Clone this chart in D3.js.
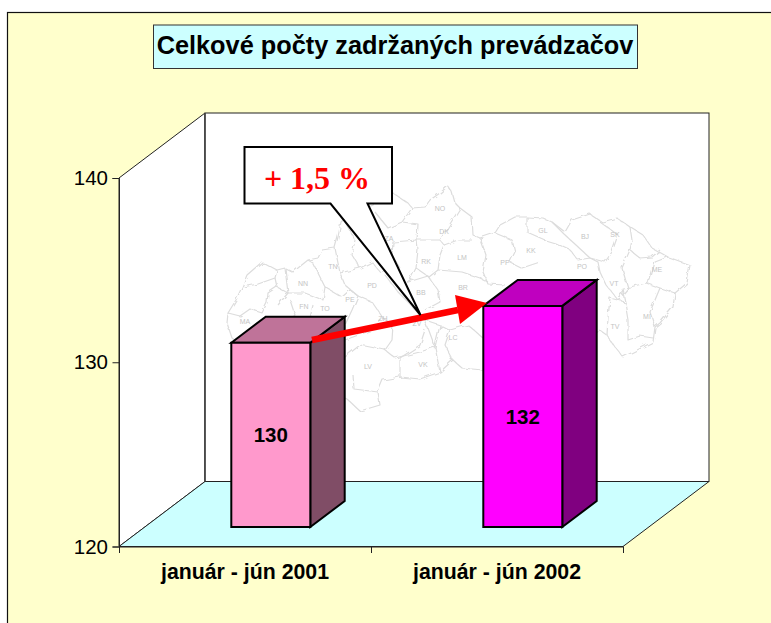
<!DOCTYPE html>
<html><head><meta charset="utf-8">
<script src="https://cdnjs.cloudflare.com/ajax/libs/d3/7.8.5/d3.min.js"></script>
<style>html,body{margin:0;padding:0;background:#fff;overflow:hidden}svg{display:block}</style>
</head><body><div id="c"></div>
<script>
const categories = ["január - jún 2001", "január - jún 2002"];
const values = [130, 132];
const valueLabels = ["130", "132"];
const yTicks = [120, 130, 140];
const chartTitle = "Celkové počty zadržaných prevádzačov";
const calloutText = "+ 1,5 %";
const frontColors = ["#ff99cc", "#ff00ff"];
const topColors = ["#bf7399", "#bf00bf"];
const sideColors = ["#804d66", "#800080"];

const mapOutline = [[227,323],[228,313],[236,300],[242,287],[247,275],[262,262],[277,270],[285,268],[293,272],[308,260],[318,258],[322,250],[335,248],[338,237],[341,222],[352,212],[370,205],[393,193],[408,203],[412,208],[425,207],[430,200],[440,193],[448,186],[452,192],[455,203],[460,208],[472,217],[473,235],[480,238],[495,233],[500,225],[515,217],[527,217],[543,218],[552,222],[565,232],[572,220],[590,214],[602,222],[617,218],[630,227],[643,235],[652,248],[668,257],[690,265],[687,283],[675,293],[673,307],[660,323],[655,327],[653,342],[637,350],[623,357],[615,347],[607,335],[600,330],[590,350],[560,365],[520,372],[483,370],[462,368],[453,360],[440,372],[420,379],[400,377],[383,380],[378,392],[380,405],[360,411],[347,399],[330,392],[300,380],[260,360],[232,338],[227,323]];
const mapInner = [
 [[243,287],[258,284],[275,278],[277,270]],
 [[275,278],[277,287],[268,293],[267,303],[262,313],[250,309],[240,316],[228,313]],
 [[277,287],[288,293],[278,305]],
 [[285,268],[288,293],[305,293],[323,300],[325,287],[313,263],[308,260]],
 [[290,300],[295,315],[285,325]],
 [[313,305],[310,318]],
 [[325,287],[342,297],[350,290],[358,296],[352,310],[345,325]],
 [[335,248],[340,273],[345,285],[358,296]],
 [[340,273],[360,268],[372,262],[380,272],[395,268]],
 [[345,222],[355,240],[352,255],[360,268]],
 [[358,296],[372,302],[383,318],[372,330],[345,340]],
 [[395,268],[385,275],[398,292],[412,306],[417,312]],
 [[375,212],[388,228],[402,222],[412,208]],
 [[402,222],[418,224],[417,240],[393,242],[392,255],[400,268]],
 [[417,240],[440,240],[460,208]],
 [[417,240],[418,250],[416,268],[410,280],[405,283]],
 [[440,240],[444,245],[440,255],[438,270],[429,277],[416,268]],
 [[444,245],[458,240],[472,240]],
 [[438,270],[462,272],[480,278],[488,282]],
 [[405,283],[428,276],[438,290],[440,302],[425,310]],
 [[480,238],[486,255],[483,272],[488,284],[505,285]],
 [[495,233],[512,240],[515,252],[510,262],[522,268],[540,262]],
 [[527,217],[527,232],[545,240],[555,243],[570,250],[578,260],[590,258]],
 [[552,222],[565,235],[576,245],[590,258],[598,262],[600,272],[606,285],[618,300],[628,288],[622,268],[630,250],[632,240],[630,227]],
 [[590,258],[605,262],[612,252],[618,235],[600,222]],
 [[630,250],[640,258],[652,257],[660,250]],
 [[668,257],[655,262],[650,280],[646,283],[660,288],[675,293]],
 [[646,283],[630,287],[622,288],[625,302],[628,320],[628,340],[640,336],[653,338]],
 [[660,288],[655,300],[650,312],[655,327]],
 [[625,302],[610,298],[608,318],[607,335]],
 [[383,318],[393,325],[392,340],[385,350],[395,358],[420,352],[435,347],[425,320],[417,312]],
 [[435,347],[440,372]],
 [[425,320],[440,325],[435,347]],
 [[425,330],[420,345],[400,358],[400,378]],
 [[385,350],[360,345],[345,357]],
 [[353,375],[354,389],[378,392]],
 [[450,330],[468,325],[483,338]],
 [[440,325],[450,330],[445,345],[453,360]]
];
const mapLabels = [["MA",245,322],["NN",303,284],["TN",333,267],["FN",304,307],["TO",325,309],["PD",372,286],["PE",350,300],["ZA",389,239],["NO",440,209],["DK",444,232],["RK",426,262],["LM",462,258],["BB",421,293],["BR",463,288],["ZH",383,319],["ZV",417,324],["LV",368,367],["VK",423,365],["LC",453,338],["PP",505,263],["KK",531,251],["GL",543,231],["BJ",585,237],["PO",582,267],["SK",615,235],["VT",614,284],["TV",615,327],["ME",657,270],["MI",647,317]];

const W = 771, H = 623;
const frame = {x:7.5, y:12.5};
const origin = {x:119, y:546.5}, plotRight = 623, yTop = 178;
const depth = {dx:86, dy:-65};
const barNear = 0.3, barFar = 0.7;

const svg = d3.select("#c").append("svg").attr("width",W).attr("height",H);
const SANS = "'Liberation Sans',Arial,sans-serif";

// gives the traced map borders their hand-drawn wobble
const filt = svg.append("defs").append("filter").attr("id","wobble").attr("x","-5%").attr("y","-5%").attr("width","110%").attr("height","110%");
filt.append("feTurbulence").attr("type","fractalNoise").attr("baseFrequency",0.13).attr("numOctaves",2).attr("seed",4).attr("result","n");
filt.append("feDisplacementMap").attr("in","SourceGraphic").attr("in2","n").attr("scale",5);

svg.append("rect").attr("x",frame.x).attr("y",frame.y).attr("width",W+20).attr("height",H+20)
  .attr("fill","#ffffcc").attr("stroke","#111").attr("stroke-width",1.2);

// title
svg.append("rect").attr("x",153.5).attr("y",25).attr("width",484).attr("height",43.5)
  .attr("fill","#ccffff").attr("stroke","#333").attr("stroke-width",1);
svg.append("text").attr("x",395).attr("y",54).attr("text-anchor","middle")
  .attr("font-family",SANS).attr("font-weight","bold").attr("font-size",25.3).attr("fill","#000").text(chartTitle);

const y = d3.scaleLinear().domain([yTicks[0],yTicks[yTicks.length-1]]).range([origin.y,yTop]);
const x = d3.scaleBand().domain(categories).range([origin.x,plotRight]).paddingInner(0.6865).paddingOuter(0.34325);
const poly = d3.line();

// walls and floor
const top0 = y(yTicks[2]);
svg.append("path").attr("d",poly([[origin.x,top0],[origin.x+depth.dx,top0+depth.dy],[origin.x+depth.dx,origin.y+depth.dy],[origin.x,origin.y]])+"Z")
  .attr("fill","#fff").attr("stroke","#222").attr("stroke-width",1);
svg.append("path").attr("d",poly([[origin.x,origin.y],[plotRight,origin.y],[plotRight+depth.dx,origin.y+depth.dy],[origin.x+depth.dx,origin.y+depth.dy]])+"Z")
  .attr("fill","#ccffff").attr("stroke","#222").attr("stroke-width",1);
svg.append("rect").attr("x",origin.x+depth.dx).attr("y",top0+depth.dy)
  .attr("width",plotRight-origin.x).attr("height",origin.y-top0)
  .attr("fill","#fff").attr("stroke","#222").attr("stroke-width",1);
svg.append("line").attr("x1",205).attr("x2",205).attr("y1",113).attr("y2",481.5).attr("stroke","#444").attr("stroke-width",1.4);

// background map
const map = svg.append("g").attr("fill","none").attr("stroke","#dcdcdc").attr("stroke-width",1.2).attr("stroke-linejoin","round").attr("filter","url(#wobble)");
map.append("path").attr("d",poly(mapOutline));
map.selectAll("path.in").data(mapInner).join("path").attr("class","in").attr("d",d=>poly(d));
svg.append("g").selectAll("text").data(mapLabels).join("text")
  .attr("x",d=>d[1]).attr("y",d=>d[2]).attr("dy","0.35em").attr("text-anchor","middle")
  .attr("font-family",SANS).attr("font-size",7).attr("fill","#c4c4c4").text(d=>d[0]);

// axes
const yAxis = d3.axisLeft(y).tickValues(yTicks).tickSize(6.5).tickPadding(4.5).tickFormat(d3.format("d"));
const yg = svg.append("g").attr("transform",`translate(${origin.x},0)`).call(yAxis);
yg.select(".domain").attr("stroke","#222");
yg.selectAll("line").attr("stroke","#222");
yg.selectAll("text").attr("font-family",SANS).attr("font-size",20.5).attr("fill","#000");

const xEdges = d3.scaleLinear().domain([0,categories.length]).range([origin.x,plotRight]);
const xg = svg.append("g").attr("transform",`translate(0,${origin.y})`)
  .call(d3.axisBottom(xEdges).tickValues(d3.range(categories.length+1)).tickSize(6.5).tickSizeOuter(0).tickFormat(""));
xg.select(".domain").attr("stroke","#222");
xg.selectAll("line").attr("stroke","#222");
const xl = svg.append("g").attr("transform",`translate(0,${origin.y})`).call(d3.axisBottom(x).tickSize(0).tickPadding(17.5));
xl.select(".domain").remove();
xl.selectAll("text").attr("font-family",SANS).attr("font-weight","bold").attr("font-size",21.3).attr("fill","#000");

// 3-D bars
const bars = svg.append("g").selectAll("g").data(categories.map((c,i)=>({c,v:values[i],l:valueLabels[i],i}))).join("g");
bars.each(function(d){
  const g = d3.select(this);
  const bx = x(d.c)+depth.dx*barNear, bw = x.bandwidth();
  const yb = origin.y+depth.dy*barNear, yt = y(d.v)+depth.dy*barNear;
  const ox = depth.dx*(barFar-barNear), oy = depth.dy*(barFar-barNear);
  const st = {stroke:"#000","stroke-width":2,"stroke-linejoin":"miter"};
  const add = (pts,fill)=>{const p=g.append("path").attr("d",poly(pts)+"Z").attr("fill",fill);Object.entries(st).forEach(([k,v])=>p.attr(k,v));};
  add([[bx+bw,yb],[bx+bw+ox,yb+oy],[bx+bw+ox,yt+oy],[bx+bw,yt]],sideColors[d.i]);
  add([[bx,yt],[bx+ox,yt+oy],[bx+bw+ox,yt+oy],[bx+bw,yt]],topColors[d.i]);
  add([[bx,yb],[bx+bw,yb],[bx+bw,yt],[bx,yt]],frontColors[d.i]);
  g.append("text").attr("x",bx+bw/2).attr("y",(yb+yt)/2).attr("dy","0.36em").attr("text-anchor","middle")
    .attr("font-family",SANS).attr("font-weight","bold").attr("font-size",20.5).attr("fill","#000").text(d.l);
});

// growth arrow
const arrowBody = [[312,340],[458,310]];
const arrowHead = [[455,295],[487,303],[460,324]];
svg.append("path").attr("d",poly(arrowBody)).attr("stroke","#ff0000").attr("stroke-width",6.5).attr("fill","none");
svg.append("path").attr("d",poly(arrowHead)+"Z").attr("fill","#ff0000");

// callout
const calloutShape = [[244.5,147],[392,147],[392,203.5],[367.5,203.5],[420.5,315],[330.5,203.5],[244.5,203.5]];
svg.append("path").attr("d",poly(calloutShape)+"Z").attr("fill","#fff").attr("stroke","#000").attr("stroke-width",2);
svg.append("text").attr("x",317).attr("y",189).attr("text-anchor","middle")
  .attr("font-family","'Liberation Serif','Times New Roman',serif").attr("font-weight","bold").attr("font-size",32).attr("fill","#ff0000").text(calloutText);
</script></body></html>
